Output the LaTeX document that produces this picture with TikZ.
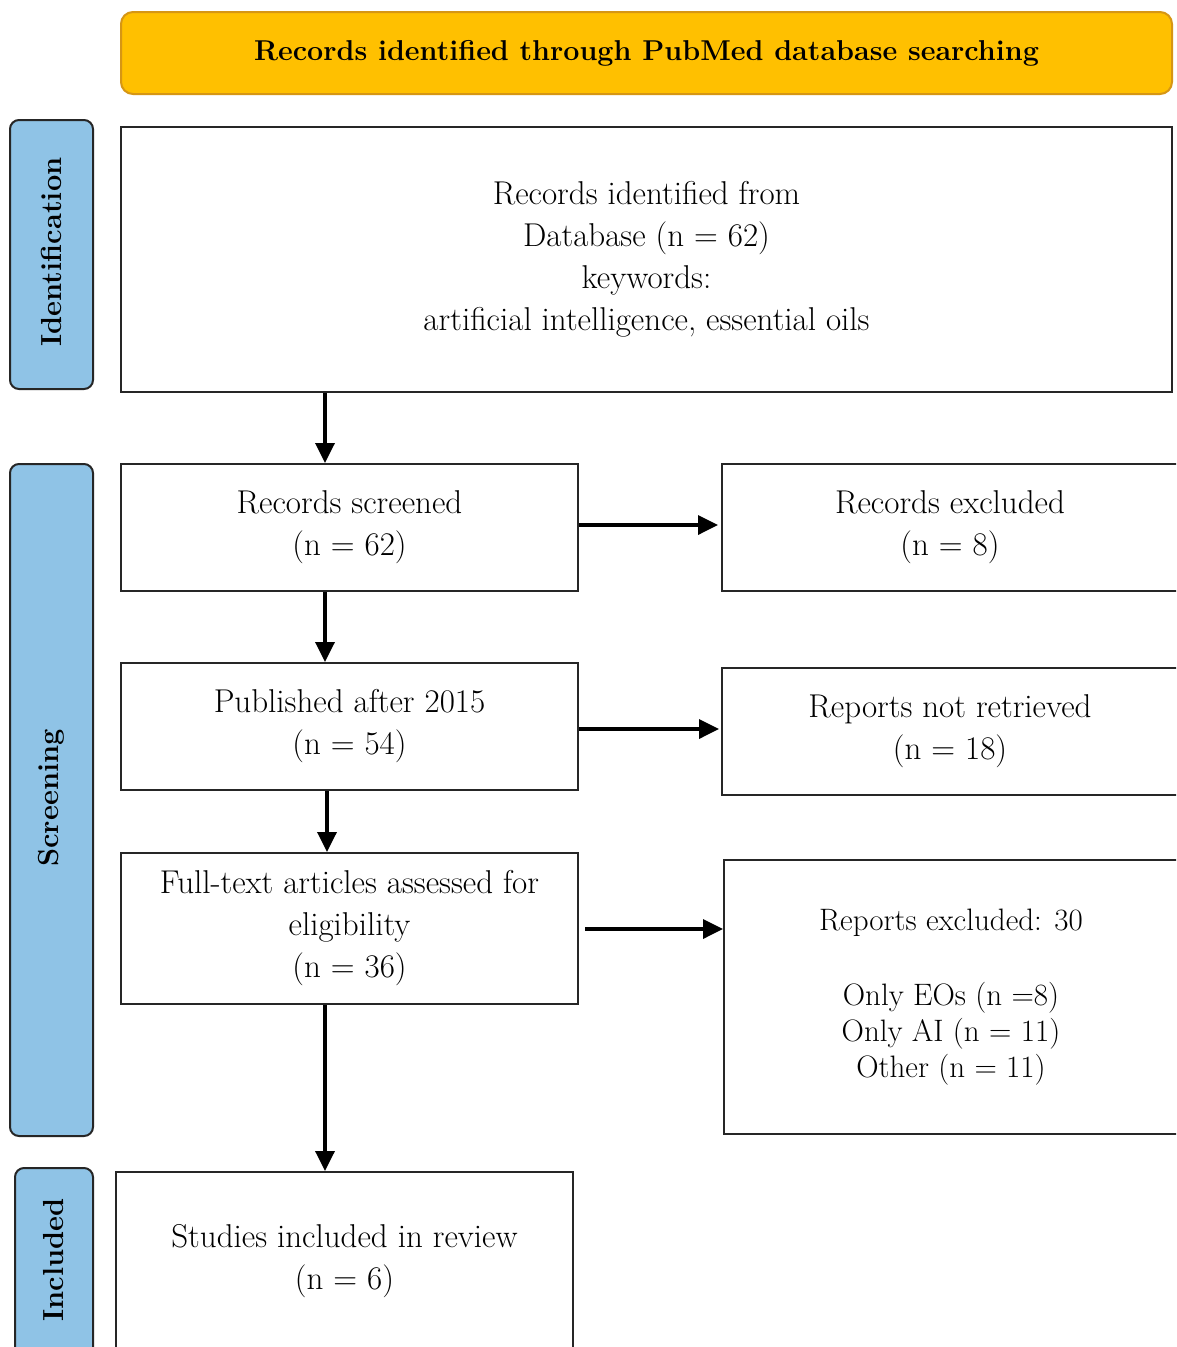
\documentclass[tikz,border=0pt]{standalone}
\usetikzlibrary{arrows.meta,calc}
\definecolor{bannerfill}{RGB}{255,192,0}
\definecolor{bannerdraw}{RGB}{214,150,20}
\definecolor{sidefill}{RGB}{143,195,230}
\begin{document}
\begin{tikzpicture}[x=1pt,y=-1pt,
  box/.style={draw=black!85,line width=2pt,fill=white,align=center,inner sep=0pt,
    font=\fontsize{33}{42}\selectfont},
  side/.style={draw=black!85,line width=2pt,fill=sidefill,rounded corners=9pt,inner sep=0pt},
  sidetext/.style={rotate=90,font=\fontsize{29}{34}\selectfont\bfseries},
  arr/.style={line width=3.5pt,-{Triangle[length=20pt,width=19pt]}}]
\clip (0,0) rectangle (1176,1347);
\useasboundingbox (0,0) rectangle (1176,1347);
\fill[white] (0,0) rectangle (1176,1347);
% banner
\node[draw=bannerdraw,line width=2pt,fill=bannerfill,rounded corners=12pt,minimum width=1051pt,minimum height=82pt,inner sep=0pt,
  font=\fontsize{28.7}{34}\selectfont\bfseries] (banner) at (646.5,53) {Records identified through PubMed database searching};
% side labels
\node[side,minimum width=83pt,minimum height=269pt] (sid) at (51.5,254.5) {};
\node[sidetext] (sidt) at (51.5,252) {Identification};
\node[side,minimum width=83pt,minimum height=672pt] (sscr) at (51.5,800) {};
\node[sidetext] (sscrt) at (51.5,798) {Screening};
\node[side,minimum width=78pt,minimum height=190pt] (sinc) at (54,1263) {};
\node[sidetext] (sinct) at (54,1260) {Included};
% main boxes
\node[box,minimum width=1051pt,minimum height=265pt] (ident) at (646.5,259.5)
  {Records identified from\\Database (n = 62)\\keywords:\\artificial intelligence, essential oils};
\node[box,minimum width=457pt,minimum height=127pt] (screened) at (349.5,527.5)
  {Records screened\\(n = 62)};
\node[box,minimum width=456pt,minimum height=127pt] (excluded) at (950,527.5)
  {Records excluded\\(n = 8)};
\node[box,minimum width=457pt,minimum height=127pt] (published) at (349.5,726.5)
  {Published after 2015\\(n = 54)};
\node[box,minimum width=456pt,minimum height=127pt] (notret) at (950,731.5)
  {Reports not retrieved\\(n = 18)};
\node[box,minimum width=457pt,minimum height=151pt] (fulltext) at (349.5,928.5)
  {Full-text articles assessed for\\eligibility\\(n = 36)};
\node[box,minimum width=454pt,minimum height=274pt,font=\fontsize{31}{36}\selectfont] (rexcl) at (951,997)
  {Reports excluded: 30\\[39pt]Only EOs (n =8)\\Only AI (n = 11)\\Other (n = 11)};
\node[box,minimum width=457pt,minimum height=178pt] (studies) at (344.5,1261)
  {Studies included in review\\(n = 6)};
% connectors
\coordinate (cx) at (325,0);
\coordinate (cy) at (327,0);
\draw[arr] (ident.south -| cx) -- (screened.north -| cx);
\draw[arr] (screened.south -| cx) -- (published.north -| cx);
\draw[arr] (published.south -| cy) -- (fulltext.north -| cy);
\draw[arr] (fulltext.south -| cx) -- (studies.north -| cx);
\draw[arr,shorten >=3pt] (screened.east |- 0,525) -- (excluded.west |- 0,525);
\draw[arr,shorten >=2pt] (published.east |- 0,729) -- (notret.west |- 0,729);
\draw[arr,shorten <=6pt] (fulltext.east |- 0,929) -- (rexcl.west |- 0,929);
\end{tikzpicture}
\end{document}
